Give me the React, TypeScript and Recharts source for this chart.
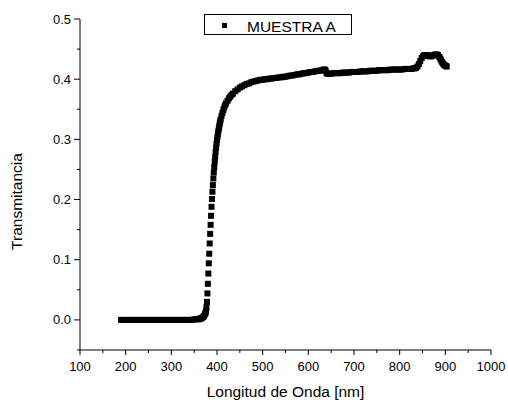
import React from "react";
import {
  ScatterChart,
  Scatter,
  XAxis,
  YAxis,
  Legend,
} from "recharts";

const seriesName = "MUESTRA A";
const xTitle = "Longitud de Onda [nm]";
const yTitle = "Transmitancia";

// flat absorption region
const wlFlat = [
  190, 195, 200, 205, 210, 215, 220, 225, 230, 235, 240, 245, 250, 255, 260,
  265, 270, 275, 280, 285, 290, 295, 300, 305, 310, 315, 320, 325, 330, 335,
  340, 345, 350, 355, 360,
];
const trFlat = [
  0, 0, 0, 0, 0, 0, 0, 0, 0, 0, 0, 0, 0, 0, 0,
  0, 0, 0, 0, 0, 0, 0, 0, 0, 0, 0, 0, 0, 0, 0,
  0, 0, 0.001, 0.001, 0.001,
];

// absorption edge
const wlEdge = [
  362, 364, 366, 368, 370, 372, 374, 375, 376, 377, 378, 379,
  380, 381, 382, 383, 384, 385, 386, 387, 388, 389, 390, 391, 392, 393, 394,
  395, 396, 397, 398, 399, 400, 401, 402, 403, 404, 405, 406, 407, 408,
  410, 412, 414, 416, 418, 420,
  423, 426, 429, 432, 435,
  440, 445, 450, 455, 460, 465, 470, 475, 480, 485, 490, 495, 500,
];
const trEdge = [
  0.002, 0.002, 0.003, 0.004, 0.005, 0.007, 0.01, 0.012, 0.015, 0.021, 0.03, 0.044,
  0.06, 0.077, 0.094, 0.11, 0.127, 0.143, 0.158, 0.173, 0.188, 0.201, 0.213, 0.224,
  0.235, 0.245, 0.254, 0.263, 0.271, 0.279, 0.286, 0.293, 0.299, 0.304, 0.309, 0.314,
  0.318, 0.322, 0.326, 0.33, 0.333,
  0.339, 0.344, 0.349, 0.353, 0.357, 0.36,
  0.364, 0.368, 0.371, 0.374, 0.376,
  0.38, 0.383, 0.386, 0.388, 0.39, 0.392, 0.393, 0.395, 0.396, 0.397, 0.398, 0.399, 0.399,
];

// plateau
const wlPlateau = [
  505, 510, 515, 520, 525, 530, 535, 540, 545, 550, 555, 560, 565, 570, 575,
  580, 585, 590, 595, 600, 605, 610, 615, 620, 625, 630,
  634, 636, 638, 640, 642, 645,
  650, 655, 660, 665, 670, 675, 680, 685, 690, 695, 700, 705, 710, 715, 720,
  725, 730, 735, 740, 745, 750, 755, 760, 765, 770, 775, 780, 785, 790, 795,
  800, 805, 810, 815, 820, 825, 830,
];
const trPlateau = [
  0.4, 0.4, 0.401, 0.401, 0.402, 0.402, 0.403, 0.403, 0.404, 0.404, 0.405, 0.406, 0.406, 0.407, 0.408,
  0.408, 0.409, 0.41, 0.41, 0.411, 0.412, 0.412, 0.413, 0.414, 0.414, 0.415,
  0.416, 0.416, 0.414, 0.41, 0.409, 0.409,
  0.409, 0.41, 0.41, 0.41, 0.41, 0.411, 0.411, 0.411, 0.411, 0.412, 0.412, 0.412, 0.412, 0.413, 0.413,
  0.413, 0.413, 0.414, 0.414, 0.414, 0.414, 0.415, 0.415, 0.415, 0.415, 0.415, 0.416, 0.416, 0.416, 0.416,
  0.416, 0.416, 0.417, 0.417, 0.417, 0.417, 0.418,
];

// peak near 870 nm
const wlPeak = [
  833, 836, 839, 842, 845, 848, 851, 854, 857, 860, 863, 866, 869, 872, 875,
  878, 881, 884, 887, 889, 891, 893, 895, 897, 899, 901, 903,
];
const trPeak = [
  0.418, 0.419, 0.421, 0.425, 0.43, 0.435, 0.438, 0.44, 0.44, 0.44, 0.439, 0.438, 0.438, 0.439, 0.44,
  0.441, 0.441, 0.44, 0.437, 0.434, 0.431, 0.428, 0.426, 0.424, 0.423, 0.422, 0.421,
];

const xTicks = [
  100, 150, 200, 250, 300, 350, 400, 450, 500, 550, 600, 650, 700, 750, 800,
  850, 900, 950, 1000,
];
const yTicks = [-0.05, 0, 0.05, 0.1, 0.15, 0.2, 0.25, 0.3, 0.35, 0.4, 0.45, 0.5];

const wavelengths = [...wlFlat, ...wlEdge, ...wlPlateau, ...wlPeak];
const transmittance = [...trFlat, ...trEdge, ...trPlateau, ...trPeak];
const data = wavelengths.map((x, i) => ({ x, y: transmittance[i] }));

const font = "'Liberation Sans', Arial, sans-serif";

const XTick = (props: any) => {
  const { x, y, payload } = props;
  const v = payload.value;
  const major = v % 100 === 0;
  return (
    <g>
      <line x1={x} x2={x} y1={y} y2={y + (major ? 5 : 3)} stroke="#000" />
      {major && (
        <text x={x} y={y + 21} textAnchor="middle" fontSize={13} fill="#000" fontFamily={font}>
          {v}
        </text>
      )}
    </g>
  );
};

const YTick = (props: any) => {
  const { x, y, payload } = props;
  const v = payload.value;
  const major = Math.abs(Math.round(v * 100)) % 10 === 0;
  return (
    <g>
      <line x1={x - (major ? 6 : 3)} x2={x} y1={y} y2={y} stroke="#000" />
      {major && (
        <text x={x - 9} y={y} dy="0.35em" textAnchor="end" fontSize={13} fill="#000" fontFamily={font}>
          {v.toFixed(1)}
        </text>
      )}
    </g>
  );
};

const SquareDot = (props: any) => {
  const { cx, cy } = props;
  if (cx == null || cy == null) return null;
  return <rect x={cx - 3} y={cy - 3} width={6} height={6} fill="#000" />;
};

const LegendBox = (props: any) => {
  const item = props.payload && props.payload[0];
  return (
    <svg width={148} height={21} style={{ display: "block" }}>
      <rect x={0.5} y={0.5} width={147} height={20} fill="#fff" stroke="#000" />
      <rect x={18} y={9} width={5} height={5} fill="#000" />
      <text x={43} y={18} fontSize={15.5} fill="#000" fontFamily={font}>
        {item ? item.value : seriesName}
      </text>
    </svg>
  );
};

const XTitle = (props: any) => {
  const vb = props.viewBox;
  return (
    <text x={vb.x + vb.width / 2} y={vb.y + 46.5} textAnchor="middle" fontSize={15.5} fill="#000" fontFamily={font}>
      {xTitle}
    </text>
  );
};

const YTitle = (props: any) => {
  const vb = props.viewBox;
  const cx = vb.x + 21.5;
  const cy = vb.y + vb.height / 2 + 17;
  return (
    <text x={cx} y={cy} transform={`rotate(-90 ${cx} ${cy})`} textAnchor="middle" fontSize={15.5} fill="#000" fontFamily={font}>
      {yTitle}
    </text>
  );
};

export default function App() {
  return (
    <div style={{ position: "absolute", left: 0, top: 0, width: 508, height: 400, background: "#fff", fontFamily: font }}>
      <ScatterChart width={508} height={400} margin={{ top: 19, right: 17, left: 0, bottom: 0 }}>
        <XAxis
          type="number"
          dataKey="x"
          domain={[100, 1000]}
          ticks={xTicks}
          interval={0}
          allowDataOverflow
          height={50}
          tickSize={0}
          tickMargin={0}
          tickLine={false}
          tick={<XTick />}
          axisLine={{ stroke: "#000", strokeWidth: 1 }}
          label={{ content: <XTitle /> }}
        />
        <YAxis
          type="number"
          dataKey="y"
          domain={[-0.05, 0.5]}
          ticks={yTicks}
          interval={0}
          allowDataOverflow
          width={80}
          tickSize={0}
          tickMargin={0}
          tickLine={false}
          tick={<YTick />}
          axisLine={{ stroke: "#000", strokeWidth: 1 }}
          label={{ content: <YTitle /> }}
        />
        <Legend
          layout="horizontal"
          verticalAlign="middle"
          align="center"
          content={<LegendBox />}
          wrapperStyle={{ left: 204, top: 14, width: 148, height: 21 }}
        />
        <Scatter name={seriesName} data={data} fill="#000" shape={<SquareDot />} isAnimationActive={false} />
      </ScatterChart>
    </div>
  );
}
